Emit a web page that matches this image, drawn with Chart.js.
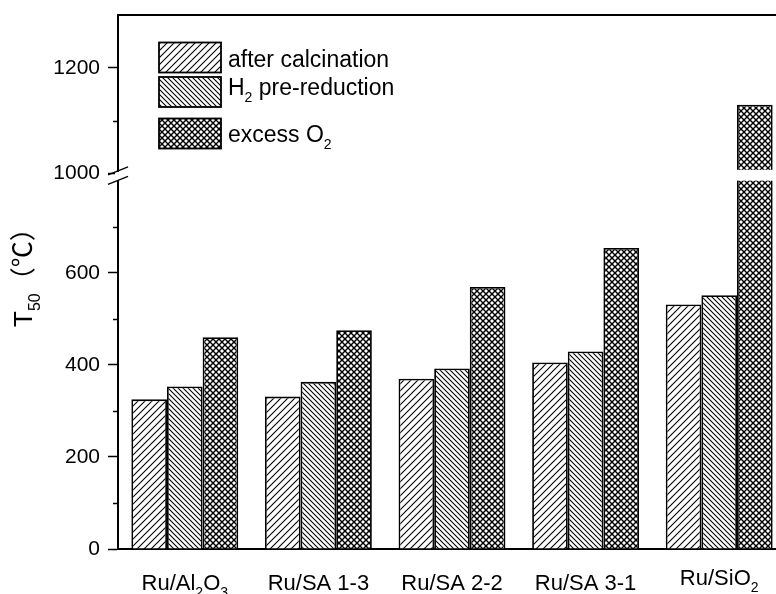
<!DOCTYPE html>
<html>
<head>
<meta charset="utf-8">
<script src="https://cdn.jsdelivr.net/npm/chart.js@4.4.0/dist/chart.umd.min.js"></script>
<style>
  html, body { margin: 0; padding: 0; background: #fff; overflow: hidden; }
</style>
</head>
<body>
<canvas id="chart" width="800" height="594"></canvas>
<script>
// "_" marks the next character as a subscript
const catalysts = ["Ru/Al_2O_3", "Ru/SA 1-3", "Ru/SA 2-2", "Ru/SA 3-1", "Ru/SiO_2"];
const seriesNames = ["after calcination", "H_2 pre-reduction", "excess O_2"];
const afterCalcination = [325, 331, 370, 405, 531];
const h2PreReduction = [353, 363, 392, 429, 551];
const excessO2 = [460, 475, 569, 654, 1130];
const majorTicks = [0, 200, 400, 600, 1000, 1200];
const minorTicks = [100, 300, 500, 700, 1100];

const FONT = "'Liberation Sans', Arial, sans-serif";
const CJK_FONT = "'Noto Sans CJK SC', sans-serif";

// broken y axis: 0-800 below the break, 1000-1300 above it (a bit stretched)
const BREAK_LOW = 800;
const BREAK_HIGH = 1000;
const BREAK_GAP = 16;
const UPPER_STRETCH = 1.146;
const toAxis = (v) =>
  v <= BREAK_LOW ? v : BREAK_LOW + BREAK_GAP + (v - BREAK_HIGH) * UPPER_STRETCH;
const fromAxis = (a) =>
  a <= BREAK_LOW ? a : BREAK_HIGH + (a - BREAK_LOW - BREAK_GAP) / UPPER_STRETCH;

function hatch(period, dirs, width) {
  const c = document.createElement("canvas");
  c.width = c.height = period;
  const g = c.getContext("2d");
  g.fillStyle = "#fff";
  g.fillRect(0, 0, period, period);
  g.strokeStyle = "#000";
  g.lineWidth = width;
  for (const d of dirs) {
    for (const k of [-period, 0, period]) {
      g.beginPath();
      if (d === "/") {
        g.moveTo(k - 1, period + 1);
        g.lineTo(k + period + 1, -1);
      } else {
        g.moveTo(k - 1, -1);
        g.lineTo(k + period + 1, period + 1);
      }
      g.stroke();
    }
  }
  return g.createPattern(c, "repeat");
}

const fills = [hatch(7, ["/"], 1.1), hatch(5, ["\\"], 1.1), hatch(6, ["/", "\\"], 1.4)];

// returns the drawn width
function drawRich(ctx, text, x, y, size, align) {
  const parts = [];
  for (let i = 0; i < text.length; i++) {
    const sub = text[i] === "_";
    const ch = sub ? text[++i] : text[i];
    const last = parts[parts.length - 1];
    if (last && last.sub === sub) last.s += ch;
    else parts.push({ s: ch, sub });
  }
  const subSize = Math.round(size * 0.62);
  let total = 0;
  for (const p of parts) {
    ctx.font = (p.sub ? subSize : size) + "px " + FONT;
    p.w = ctx.measureText(p.s).width;
    total += p.w;
  }
  let cx = align === "center" ? x - total / 2 : x;
  ctx.textAlign = "left";
  ctx.textBaseline = "alphabetic";
  for (const p of parts) {
    ctx.font = (p.sub ? subSize : size) + "px " + FONT;
    ctx.fillText(p.s, cx, p.sub ? y + size * 0.3 : y);
    cx += p.w;
  }
  return total;
}

const decor = {
  id: "decor",
  afterDatasetsDraw(chart) {
    // white band where the y axis is broken
    const { ctx, chartArea, scales } = chart;
    const yTop = scales.y.getPixelForValue(toAxis(BREAK_HIGH)) - 3.5;
    const yBot = scales.y.getPixelForValue(BREAK_LOW);
    ctx.save();
    ctx.fillStyle = "#fff";
    ctx.fillRect(chartArea.left + 1.5, yTop, chartArea.right - chartArea.left, yBot - yTop);
    ctx.restore();
  },
  afterDraw(chart) {
    const { ctx, chartArea, scales } = chart;
    const { left, right, top } = chartArea;
    ctx.save();
    ctx.strokeStyle = "#000";
    ctx.fillStyle = "#000";

    // frame top and right
    ctx.lineWidth = 2;
    ctx.beginPath();
    ctx.moveTo(left, top);
    ctx.lineTo(right, top);
    ctx.lineTo(right, chartArea.bottom);
    ctx.stroke();

    // minor ticks
    ctx.lineWidth = 1.5;
    for (const v of minorTicks) {
      const py = Math.round(scales.y.getPixelForValue(toAxis(v))) + 0.5;
      ctx.beginPath();
      ctx.moveTo(left - 5, py);
      ctx.lineTo(left, py);
      ctx.stroke();
    }

    // break marks on the y axis
    const yb = scales.y.getPixelForValue(toAxis(BREAK_HIGH));
    ctx.fillStyle = "#fff";
    ctx.fillRect(left - 3, yb - 1.5, 6, 8.5);
    ctx.lineWidth = 1.5;
    for (const off of [0, 9.5]) {
      ctx.beginPath();
      ctx.moveTo(left - 10, yb + 1.6 + off);
      ctx.lineTo(left + 10, yb - 6.4 + off);
      ctx.stroke();
    }

    // category labels
    ctx.fillStyle = "#000";
    const lift = [0, 0, 0, 0, 5];
    catalysts.forEach((c, i) => {
      drawRich(ctx, c, scales.x.getPixelForValue(i), 590 - lift[i], 22, "center");
    });

    // legend
    const boxTop = [42.5, 77, 118.5];
    const textBase = [67, 95, 142];
    seriesNames.forEach((name, i) => {
      ctx.fillStyle = fills[i];
      ctx.fillRect(159, boxTop[i], 62, 30);
      ctx.lineWidth = 1.8;
      ctx.strokeRect(159, boxTop[i], 62, 30);
      ctx.fillStyle = "#000";
      drawRich(ctx, name, 228, textBase[i], 23, "left");
    });

    // y axis title, read bottom to top
    ctx.translate(32, 327);
    ctx.rotate(-Math.PI / 2);
    const w = drawRich(ctx, "T_5_0", 0, 0, 26, "left");
    ctx.font = "26px " + CJK_FONT;
    ctx.fillText("（℃）", w, 0);
    ctx.restore();
  },
};

const series = [afterCalcination, h2PreReduction, excessO2];

new Chart(document.getElementById("chart"), {
  type: "bar",
  data: {
    labels: catalysts,
    datasets: series.map((values, i) => ({
      label: seriesNames[i],
      data: values.map(toAxis),
      backgroundColor: fills[i],
      borderColor: "#000",
      borderWidth: 1.8,
      barPercentage: 1,
      categoryPercentage: 0.8,
    })),
  },
  options: {
    responsive: false,
    animation: false,
    devicePixelRatio: 1,
    layout: { padding: { top: 15, right: 14, left: 0, bottom: 0 } },
    plugins: { legend: { display: false }, tooltip: { enabled: false } },
    scales: {
      x: {
        offset: true,
        ticks: { display: false },
        grid: { display: false, drawTicks: false },
        border: { display: true, color: "#000", width: 2 },
        afterFit: (s) => { s.height = 45; },
      },
      y: {
        min: 0,
        max: toAxis(1300),
        afterBuildTicks: (s) => {
          s.ticks = majorTicks.map((v) => ({ value: toAxis(v) }));
        },
        afterFit: (s) => {
          s.width = 118;
          s.paddingTop = 0;
          s.paddingBottom = 0;
        },
        ticks: {
          autoSkip: false,
          padding: 8,
          color: "#000",
          font: { family: FONT, size: 21 },
          callback: (v) => String(Math.round(fromAxis(v))),
        },
        grid: {
          drawOnChartArea: false,
          drawTicks: true,
          tickLength: 10,
          tickWidth: 1.5,
          tickColor: "#000",
        },
        border: { display: true, color: "#000", width: 2 },
      },
    },
  },
  plugins: [decor],
});
</script>
</body>
</html>
